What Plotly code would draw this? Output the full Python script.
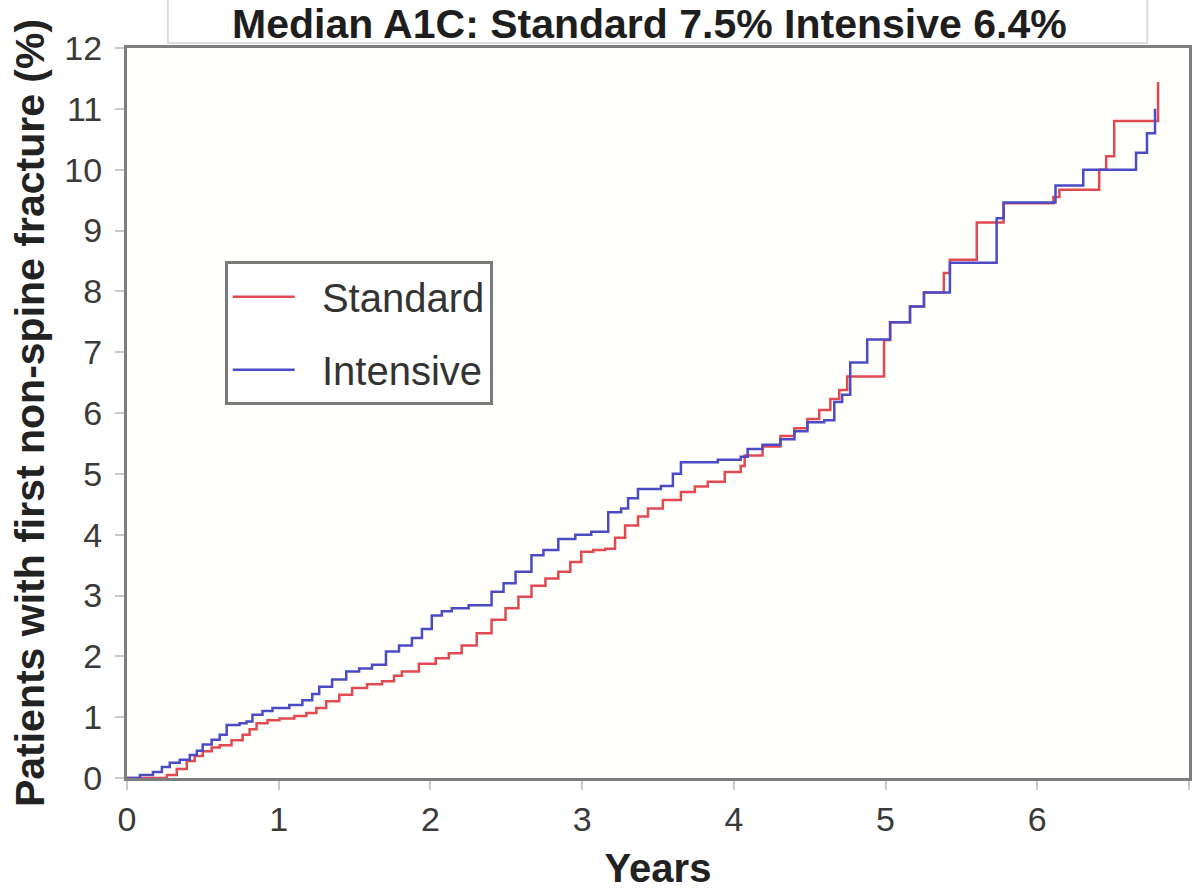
import plotly.graph_objects as go

# Kaplan-Meier style cumulative incidence of first non-spine fracture (%)
standard_years = [
    0.000, 0.151, 0.263, 0.328, 0.394, 0.446, 0.499, 0.558, 0.611, 0.689,
    0.762, 0.808, 0.854, 0.926, 1.005, 1.103, 1.182, 1.248, 1.313, 1.399,
    1.484, 1.582, 1.681, 1.760, 1.812, 1.924, 2.035, 2.121, 2.206, 2.305,
    2.403, 2.495, 2.580, 2.666, 2.758, 2.843, 2.922, 2.994, 3.073, 3.152,
    3.217, 3.283, 3.368, 3.434, 3.532, 3.651, 3.743, 3.828, 3.940, 4.045,
    4.071, 4.189, 4.307, 4.399, 4.485, 4.563, 4.636, 4.695, 4.747, 4.990,
    5.030, 5.161, 5.253, 5.384, 5.424, 5.601, 5.778, 6.106, 6.146, 6.408,
    6.454, 6.507, 6.796,
]
standard_pct = [
    0.00, 0.00, 0.05, 0.15, 0.28, 0.36, 0.44, 0.50, 0.54, 0.62,
    0.71, 0.80, 0.90, 0.95, 0.98, 1.02, 1.07, 1.15, 1.26, 1.37,
    1.48, 1.54, 1.59, 1.68, 1.75, 1.88, 1.97, 2.05, 2.18, 2.38,
    2.60, 2.79, 2.98, 3.16, 3.28, 3.39, 3.55, 3.72, 3.75, 3.77,
    3.95, 4.15, 4.30, 4.43, 4.57, 4.70, 4.79, 4.87, 5.03, 5.13,
    5.30, 5.45, 5.62, 5.75, 5.90, 6.05, 6.23, 6.38, 6.60, 7.20,
    7.49, 7.75, 7.98, 8.30, 8.52, 9.13, 9.45, 9.55, 9.67, 10.00,
    10.22, 10.80, 11.44,
]

intensive_years = [
    0.000, 0.085, 0.171, 0.230, 0.282, 0.348, 0.414, 0.460, 0.499, 0.558,
    0.611, 0.657, 0.742, 0.788, 0.827, 0.893, 0.959, 1.070, 1.156, 1.221,
    1.267, 1.352, 1.445, 1.530, 1.615, 1.707, 1.793, 1.878, 1.944, 2.009,
    2.075, 2.141, 2.252, 2.403, 2.482, 2.561, 2.666, 2.745, 2.843, 2.955,
    3.060, 3.172, 3.257, 3.303, 3.368, 3.519, 3.598, 3.651, 3.894, 4.045,
    4.091, 4.189, 4.307, 4.399, 4.485, 4.596, 4.662, 4.714, 4.767, 4.879,
    5.030, 5.161, 5.253, 5.424, 5.732, 5.778, 6.120, 6.303, 6.651, 6.723,
    6.776,
]
intensive_pct = [
    0.00, 0.05, 0.10, 0.18, 0.25, 0.30, 0.38, 0.45, 0.55, 0.63,
    0.71, 0.87, 0.90, 0.93, 1.04, 1.10, 1.15, 1.20, 1.28, 1.38,
    1.50, 1.62, 1.75, 1.80, 1.86, 2.08, 2.18, 2.30, 2.45, 2.67,
    2.74, 2.79, 2.84, 3.06, 3.20, 3.39, 3.66, 3.75, 3.93, 4.00,
    4.05, 4.37, 4.43, 4.60, 4.75, 4.80, 5.00, 5.19, 5.23, 5.28,
    5.41, 5.48, 5.57, 5.70, 5.85, 5.88, 6.18, 6.30, 6.83, 7.21,
    7.49, 7.75, 7.98, 8.47, 9.20, 9.46, 9.74, 10.00, 10.28, 10.60,
    11.00,
]

x_ticks = [0, 1, 2, 3, 4, 5, 6, 7]
y_ticks = list(range(0, 13))

title_text = "Median A1C: Standard 7.5% Intensive 6.4%"
series_names = ["Standard", "Intensive"]

FONT = "Liberation Sans, Arial, sans-serif"
RED = "#e24a52"
BLUE = "#4b4bc6"
GAP = "\u00a0\u00a0"  # extra room between legend line sample and label

fig = go.Figure()
fig.add_trace(go.Scatter(
    x=standard_years, y=standard_pct, mode="lines", name=GAP + series_names[0],
    line=dict(color=RED, width=2.5, shape="hv"), legendgroup="std",
))
fig.add_trace(go.Scatter(
    x=intensive_years, y=intensive_pct, mode="lines", name=GAP + series_names[1],
    line=dict(color=BLUE, width=2.5, shape="hv"), legendgroup="int",
))

axis_common = dict(
    showline=True, linecolor="#7d7d7d", linewidth=3, mirror=True,
    showgrid=False, zeroline=False,
    ticks="outside", ticklen=9, tickwidth=1.5, tickcolor="#c8c8c8",
    tickfont=dict(family=FONT, size=34, color="#3a3a3a"),
)

fig.update_xaxes(
    range=[0, 7], tickvals=x_ticks, ticktext=[str(v) for v in x_ticks],
    title=dict(text="<b>Years</b>", font=dict(family=FONT, size=40, color="#222"),
               standoff=21),
    **axis_common,
)
fig.update_yaxes(
    range=[0, 12], tickvals=y_ticks, ticktext=[str(v) for v in y_ticks],
    title=dict(text="<b>Patients with first non-spine fracture (%)</b>",
               font=dict(family=FONT, size=41, color="#222"), standoff=8),
    ticklabelstandoff=6,
    **axis_common,
)

# header box with the title text
fig.add_shape(
    type="rect", xref="paper", yref="paper",
    x0=0.0385, x1=0.9606, y0=1.0068, y1=1.2,
    fillcolor="white", line=dict(color="#dcdcdc", width=2), layer="above",
)
fig.add_annotation(
    text=f"<b>{title_text}</b>", xref="paper", yref="paper",
    x=0.492, y=1.0335, xanchor="center", yanchor="middle", showarrow=False,
    font=dict(family=FONT, size=41, color="#1e1e1e"),
)

fig.update_layout(
    width=1195, height=890,
    margin=dict(l=127, r=3, t=48, b=110),
    paper_bgcolor="white", plot_bgcolor="#fffffc",
    showlegend=True,
    legend=dict(
        x=0.092, y=0.708, xanchor="left", yanchor="top",
        bgcolor="white", bordercolor="#7a7a7a", borderwidth=3,
        font=dict(family=FONT, size=40, color="#333"),
        traceorder="grouped", tracegroupgap=18,
        itemwidth=62,
    ),
)

fig.write_html("out.html")
